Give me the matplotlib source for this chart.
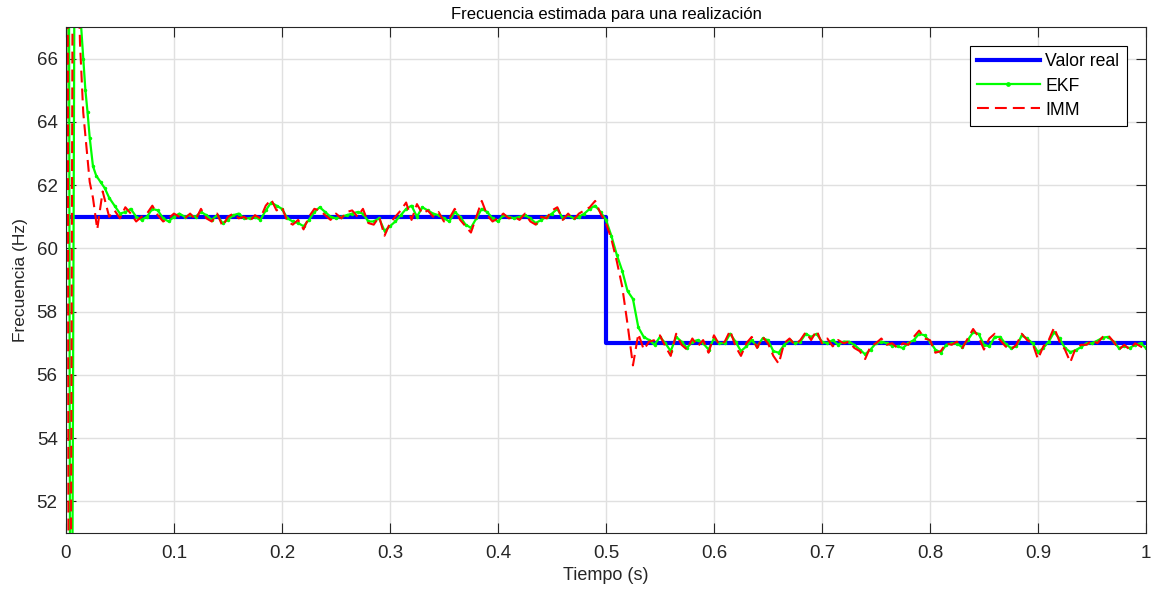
import numpy as np
import matplotlib.pyplot as plt

plt.rcParams['font.family'] = ['Liberation Sans', 'DejaVu Sans']

# valor real (escalon en t = 0.5 s)
t_real = [0.0, 0.5, 0.5, 1.0]
f_real = [61.0, 61.0, 57.0, 57.0]

# transitorio inicial (t < 0.04 s)
t_ini_ekf = [0, 0.002, 0.0045, 0.0095, 0.0135, 0.016, 0.018, 0.020, 0.022, 0.025, 0.028, 0.032, 0.036]
ekf_ini = [60.5, 85, 35, 85, 67.3, 66.0, 65.0, 64.3, 63.5, 62.6, 62.3, 62.1, 61.9]
t_ini_imm = [0, 0.001, 0.003, 0.0075, 0.0105, 0.013, 0.016, 0.019, 0.022, 0.025, 0.029, 0.031, 0.034, 0.037]
imm_ini = [61, 88, 30, 85, 70, 66.5, 64.3, 63.2, 62.1, 61.6, 60.6, 61.1, 61.8, 61.4]

# muestras cada 5 ms desde 0.04 s hasta 1 s
t_paso = 0.005
t_inicio = 0.04
ekf = [
    61.6, 61.35, 61.1, 61.15, 61.25, 61.0, 60.9, 61.0, 61.25, 61.2,
    60.95, 60.85, 61.0, 61.1, 61.0, 61.05, 61.0, 61.15, 61.05, 60.9,
    61.05, 60.8, 60.9, 61.05, 61.1, 60.95, 60.95, 61.0, 60.9, 61.2,
    61.45, 61.35, 61.25, 60.95, 60.85, 60.8, 60.7, 60.9, 61.15, 61.3,
    61.15, 61.0, 60.95, 61.0, 61.05, 61.1, 61.15, 61.1, 60.85, 60.85,
    60.95, 60.55, 60.7, 60.85, 61.05, 61.25, 61.35, 61.0, 61.3, 61.2,
    61.1, 61.05, 60.95, 60.85, 61.15, 61.0, 60.75, 60.65, 60.95, 61.25,
    61.15, 60.95, 60.85, 61.05, 61.0, 60.95, 61.0, 61.05, 60.95, 60.8,
    60.9, 61.0, 61.1, 61.25, 60.95, 61.05, 60.95, 61.0, 61.1, 61.25,
    61.35, 61.15, 60.9, 60.4, 59.8, 59.3, 58.65, 58.4, 57.5, 57.2,
    57.1, 56.95, 57.2, 57.0, 56.75, 57.2, 57.05, 56.85, 57.05, 57.1,
    57.0, 56.8, 57.15, 57.0, 57.0, 57.3, 57.05, 56.75, 56.9, 57.1,
    56.9, 57.15, 57.1, 56.75, 56.7, 56.95, 57.1, 57.0, 57.05, 57.3,
    57.2, 57.3, 57.05, 57.0, 57.1, 56.95, 57.05, 57.05, 56.95, 56.8,
    56.65, 56.8, 57.0, 57.05, 57.0, 56.92, 56.9, 56.85, 57.0, 57.1,
    57.3, 57.25, 57.05, 56.8, 56.7, 56.95, 57.0, 56.98, 56.88, 57.1,
    57.35, 57.3, 56.95, 56.9, 57.2, 57.2, 56.98, 56.85, 56.9, 57.25,
    57.15, 57.0, 56.72, 56.85, 57.05, 57.35, 57.15, 56.85, 56.72, 56.78,
    56.88, 57.0, 57.0, 57.08, 57.18, 57.2, 57.05, 56.85, 56.9, 56.85,
    56.95, 57.0, 56.85,
]
imm = [
    61.0, 61.2, 60.95, 61.3, 61.1, 60.85, 61.0, 61.1, 61.35, 61.05,
    60.85, 60.95, 61.1, 61.0, 60.95, 61.1, 60.9, 61.25, 60.95, 60.85,
    61.1, 60.7, 61.0, 61.1, 60.95, 61.0, 60.85, 61.05, 60.95, 61.35,
    61.55, 61.2, 61.3, 60.85, 60.75, 60.9, 60.6, 61.0, 61.25, 61.2,
    61.05, 60.9, 61.1, 60.95, 61.15, 61.2, 61.0, 61.25, 60.8, 60.75,
    61.0, 60.4, 60.8, 61.0, 61.2, 61.45, 60.9, 61.4, 61.1, 61.2,
    61.0, 61.15, 60.85, 60.95, 61.25, 60.9, 60.7, 60.5, 61.0, 61.5,
    61.05, 60.85, 60.95, 61.1, 60.95, 61.0, 60.9, 61.1, 60.85, 60.75,
    61.0, 60.95, 61.2, 61.3, 60.9, 61.1, 60.9, 61.1, 61.2, 61.3,
    61.5, 61.1, 60.8, 60.3, 59.6, 58.8, 57.6, 56.3, 57.3, 56.8,
    57.05, 57.1, 57.25, 56.9, 56.6, 57.3, 56.95, 56.8, 57.15, 56.9,
    57.1, 56.7, 57.25, 56.95, 57.05, 57.4, 56.9, 56.6, 57.0, 57.2,
    56.85, 57.2, 57.0, 56.6, 56.35, 57.0, 57.15, 56.95, 57.1, 57.35,
    57.1, 57.4, 57.0, 57.15, 56.9, 57.1, 57.0, 57.05, 56.85, 56.75,
    56.5, 56.9, 57.0, 57.15, 56.95, 57.0, 56.85, 57.0, 56.95, 57.2,
    57.4, 57.15, 57.1, 56.7, 56.75, 57.0, 56.95, 57.05, 56.85, 57.15,
    57.45, 57.2, 56.8, 57.15, 57.3, 57.1, 56.9, 56.8, 56.95, 57.3,
    57.1, 57.0, 56.5, 56.9, 57.1, 57.5, 57.05, 56.8, 56.4, 56.85,
    56.95, 56.95, 57.1, 57.0, 57.2, 57.25, 57.05, 56.8, 56.95, 56.8,
    57.0, 56.9, 56.8,
]

t_muestras = t_inicio + t_paso * np.arange(len(ekf))
t_ekf = np.concatenate([t_ini_ekf, t_muestras])
f_ekf = np.concatenate([ekf_ini, ekf])
t_imm = np.concatenate([t_ini_imm, t_muestras])
f_imm = np.concatenate([imm_ini, imm])

gris = (0.15, 0.15, 0.15)

fig = plt.figure(figsize=(11.51, 6.0), dpi=100)
ax = fig.add_axes([0.0573, 0.1117, 0.9383, 0.8433])

ax.plot(t_real, f_real, color='#0000ff', lw=3, label='Valor real')
ax.plot(t_ekf, f_ekf, color='#00ff00', lw=1.6, marker='.', markersize=3,
        markevery=1, label='EKF')
ax.plot(t_imm, f_imm, color='#ff0000', lw=1.5, ls=(0, (5.7, 2.9)), label='IMM')

ax.set_xlim(0, 1)
ax.set_ylim(51, 67)
ax.set_xticks(np.arange(0, 1.01, 0.1))
ax.set_xticklabels(['0', '0.1', '0.2', '0.3', '0.4', '0.5', '0.6', '0.7', '0.8', '0.9', '1'])
ax.set_yticks(np.arange(52, 67, 2))
ax.grid(True, color=(0.88, 0.88, 0.88), lw=1)
ax.set_axisbelow(True)
ax.tick_params(direction='in', top=True, right=True, length=7, colors=gris,
               labelsize=13.5, labelcolor=gris)
ax.tick_params(axis='x', pad=8.5)
ax.tick_params(axis='y', pad=6)
for s in ax.spines.values():
    s.set_color(gris)
    s.set_linewidth(0.8)

ax.set_title('Frecuencia estimada para una realización', fontsize=12, color='black', pad=6)
ax.set_xlabel('Tiempo (s)', fontsize=13, color=gris, labelpad=4)
ax.set_ylabel('Frecuencia (Hz)', fontsize=12.5, color=gris, labelpad=6)

# leyenda: un solo marcador en la linea de EKF, como en MATLAB
leg = ax.legend(loc='upper right', fontsize=12.7, frameon=True, fancybox=False,
                edgecolor='black', framealpha=1, borderaxespad=1.1,
                handlelength=3.6, handletextpad=0.3, labelspacing=0.4,
                markerscale=1.6, numpoints=1)
leg.get_frame().set_linewidth(0.8)

fig.savefig('out.png', dpi=100)
